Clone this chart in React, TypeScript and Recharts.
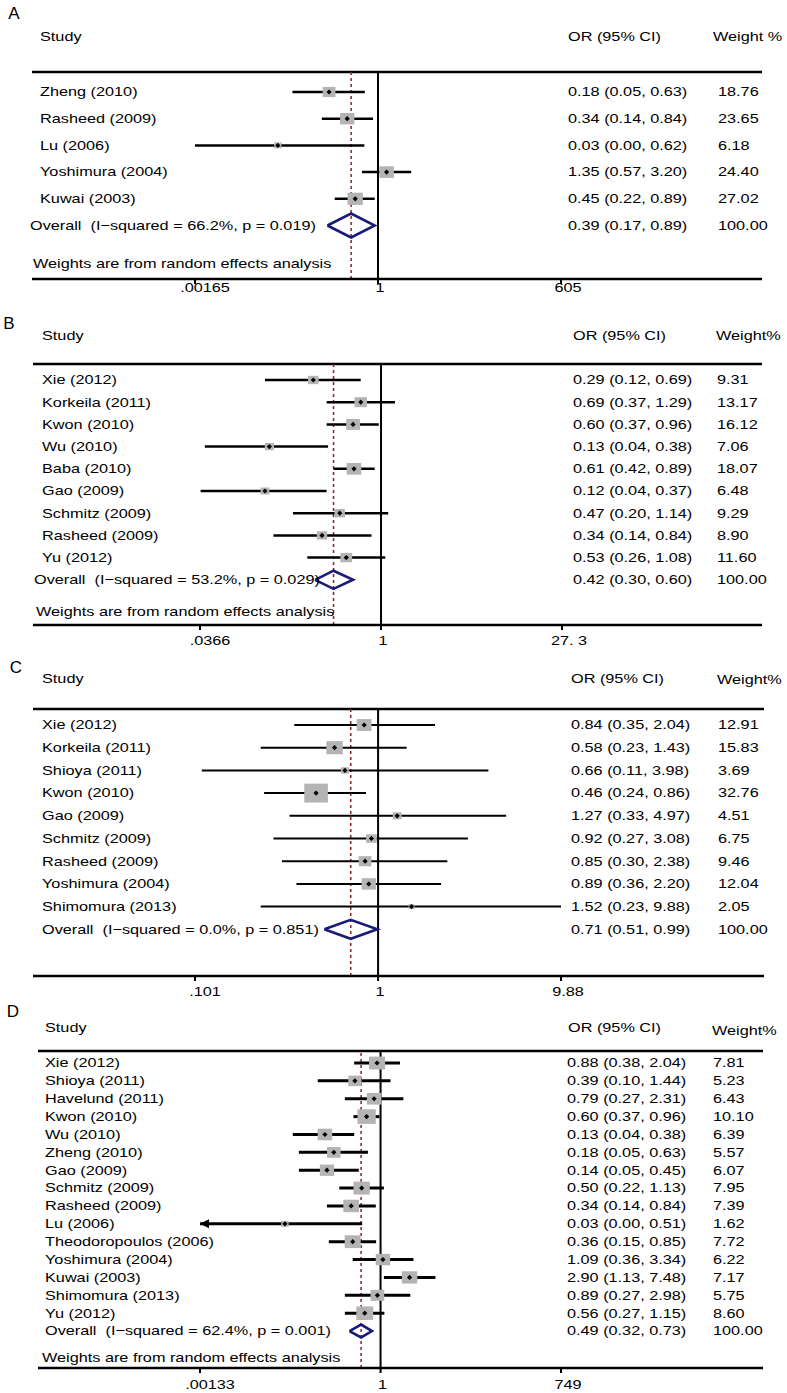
import React from 'react'
import { ComposedChart, Line, Scatter, XAxis, YAxis, ReferenceLine } from 'recharts'

// Panel A
const studiesA = ['Zheng (2010)', 'Rasheed (2009)', 'Lu (2006)', 'Yoshimura (2004)', 'Kuwai (2003)']
const orA = [0.18, 0.34, 0.03, 1.35, 0.45]
const loA = [0.05, 0.14, 0.00165, 0.57, 0.22]
const hiA = [0.63, 0.84, 0.62, 3.2, 0.89]
const weightA = [18.76, 23.65, 6.18, 24.4, 27.02]
const overallA = [0.39, 0.17, 0.89]
const hetA = 'Overall  (I\u2212squared = 66.2%, p = 0.019)'
const ticksA = [0.00165, 1, 605]
const tickLabelsA = ['.00165', '1', '605']

// Panel B
const studiesB = ['Xie (2012)', 'Korkeila (2011)', 'Kwon (2010)', 'Wu (2010)', 'Baba (2010)', 'Gao (2009)', 'Schmitz (2009)', 'Rasheed (2009)', 'Yu (2012)']
const orB = [0.29, 0.69, 0.6, 0.13, 0.61, 0.12, 0.47, 0.34, 0.53]
const loB = [0.12, 0.37, 0.37, 0.04, 0.42, 0.037, 0.2, 0.14, 0.26]
const hiB = [0.69, 1.29, 0.96, 0.38, 0.89, 0.37, 1.14, 0.84, 1.08]
const weightB = [9.31, 13.17, 16.12, 7.06, 18.07, 6.48, 9.29, 8.9, 11.6]
const overallB = [0.42, 0.3, 0.6]
const hetB = 'Overall  (I\u2212squared = 53.2%, p = 0.029)'
const ticksB = [0.0366, 1, 27.3]
const tickLabelsB = ['.0366', '1', '27. 3']

// Panel C
const studiesC = ['Xie (2012)', 'Korkeila (2011)', 'Shioya (2011)', 'Kwon (2010)', 'Gao (2009)', 'Schmitz (2009)', 'Rasheed (2009)', 'Yoshimura (2004)', 'Shimomura (2013)']
const orC = [0.84, 0.58, 0.66, 0.46, 1.27, 0.92, 0.85, 0.89, 1.52]
const loC = [0.35, 0.23, 0.11, 0.24, 0.33, 0.27, 0.3, 0.36, 0.23]
const hiC = [2.04, 1.43, 3.98, 0.86, 4.97, 3.08, 2.38, 2.2, 9.88]
const weightC = [12.91, 15.83, 3.69, 32.76, 4.51, 6.75, 9.46, 12.04, 2.05]
const overallC = [0.71, 0.51, 0.99]
const hetC = 'Overall  (I\u2212squared = 0.0%, p = 0.851)'
const ticksC = [0.101, 1, 9.88]
const tickLabelsC = ['.101', '1', '9.88']

// Panel D
const studiesD = ['Xie (2012)', 'Shioya (2011)', 'Havelund (2011)', 'Kwon (2010)', 'Wu (2010)', 'Zheng (2010)', 'Gao (2009)', 'Schmitz (2009)', 'Rasheed (2009)', 'Lu (2006)', 'Theodoropoulos (2006)', 'Yoshimura (2004)', 'Kuwai (2003)', 'Shimomura (2013)', 'Yu (2012)']
const orD = [0.88, 0.39, 0.79, 0.6, 0.13, 0.18, 0.14, 0.5, 0.34, 0.03, 0.36, 1.09, 2.9, 0.89, 0.56]
const loD = [0.38, 0.1, 0.27, 0.37, 0.04, 0.05, 0.05, 0.22, 0.14, 0.001, 0.15, 0.36, 1.13, 0.27, 0.27]
const hiD = [2.04, 1.44, 2.31, 0.96, 0.38, 0.63, 0.45, 1.13, 0.84, 0.51, 0.85, 3.34, 7.48, 2.98, 1.15]
const weightD = [7.81, 5.23, 6.43, 10.1, 6.39, 5.57, 6.07, 7.95, 7.39, 1.62, 7.72, 6.22, 7.17, 5.75, 8.6]
const overallD = [0.49, 0.32, 0.73]
const hetD = 'Overall  (I\u2212squared = 62.4%, p = 0.001)'
const ticksD = [0.00133, 1, 749]
const tickLabelsD = ['.00133', '1', '749']

const NOTE = 'Weights are from random effects analysis'
const FONT = '"Liberation Sans", Arial, Helvetica, sans-serif'
const SX = 1.27
const FS = 12.8
const TICK_DX = [10, 2, 7]

type Panel = {
  studies: string[]; or: number[]; lo: number[]; hi: number[]; weight: number[]
  overall: number[]; het: string; ticks: number[]; tickLabels: string[]; note: boolean
}

type Layout = {
  letter: string; letterX: number; letterY: number
  headY: number; studyHeadX: number; orHeadX: number; wHead: string; wHeadX: number; wHeadY: number
  top: number; bottom: number; left: number; right: number; tickPx: number[]
  row0: number; step: number
  studyX: number; overallX: number; noteX: number; noteY: number; orX: number; wX: number
  box: number; ci: number; dia: number; labelGap: number
}

const panels: { p: Panel; l: Layout }[] = [
  {
    p: { studies: studiesA, or: orA, lo: loA, hi: hiA, weight: weightA, overall: overallA, het: hetA, ticks: ticksA, tickLabels: tickLabelsA, note: true },
    l: { letter: 'A', letterX: 14, letterY: 13, headY: 37, studyHeadX: 40, orHeadX: 568, wHead: 'Weight %', wHeadX: 713, wHeadY: 37,
      top: 72, bottom: 279, left: 32, right: 762, tickPx: [195, 561], row0: 92, step: 26.7,
      studyX: 40, overallX: 30, noteX: 33, noteY: 264, orX: 568, wX: 718, box: 2.35, ci: 2.5, dia: 0.45, labelGap: 9 },
  },
  {
    p: { studies: studiesB, or: orB, lo: loB, hi: hiB, weight: weightB, overall: overallB, het: hetB, ticks: ticksB, tickLabels: tickLabelsB, note: true },
    l: { letter: 'B', letterX: 9, letterY: 323, headY: 336, studyHeadX: 42, orHeadX: 573, wHead: 'Weight%', wHeadX: 716, wHeadY: 336,
      top: 364, bottom: 625, left: 33, right: 762, tickPx: [200, 562], row0: 380, step: 22.2,
      studyX: 42, overallX: 34, noteX: 36, noteY: 612, orX: 573, wX: 717, box: 2.75, ci: 2.5, dia: 0.41, labelGap: 16 },
  },
  {
    p: { studies: studiesC, or: orC, lo: loC, hi: hiC, weight: weightC, overall: overallC, het: hetC, ticks: ticksC, tickLabels: tickLabelsC, note: false },
    l: { letter: 'C', letterX: 16, letterY: 667, headY: 679, studyHeadX: 42, orHeadX: 571, wHead: 'Weight%', wHeadX: 717, wHeadY: 680,
      top: 709, bottom: 976, left: 33, right: 764, tickPx: [195, 561], row0: 725, step: 22.7,
      studyX: 42, overallX: 42, noteX: 42, noteY: 960, orX: 571, wX: 718, box: 3.3, ci: 2, dia: 0.42, labelGap: 16 },
  },
  {
    p: { studies: studiesD, or: orD, lo: loD, hi: hiD, weight: weightD, overall: overallD, het: hetD, ticks: ticksD, tickLabels: tickLabelsD, note: true },
    l: { letter: 'D', letterX: 13, letterY: 1011, headY: 1028, studyHeadX: 45, orHeadX: 568, wHead: 'Weight%', wHeadX: 712, wHeadY: 1031,
      top: 1051, bottom: 1368, left: 38, right: 763, tickPx: [200, 561], row0: 1063, step: 17.87,
      studyX: 45, overallX: 45, noteX: 42, noteY: 1358, orX: 567, wX: 713, box: 4.6, ci: 3, dia: 0.36, labelGap: 17 },
  },
]

function Txt({ x, y, anchor = 'start', children }: { x: number; y: number; anchor?: string; children: React.ReactNode }) {
  return (
    <g transform={`translate(${x},${y}) scale(${SX},1)`}>
      <text
        x={0}
        y={0}
        dominantBaseline="central"
        textAnchor={anchor as any}
        fontSize={FS}
        fontFamily={FONT}
        fill="#000"
        xmlSpace="preserve"
        style={{ whiteSpace: 'pre' }}
      >
        {children}
      </text>
    </g>
  )
}

const f2 = (v: number) => v.toFixed(2)

function ForestPanel({ p, l }: { p: Panel; l: Layout }) {
  const lnT = p.ticks.map(Math.log)
  const tMin = lnT[0]
  const tMax = lnT[lnT.length - 1]
  const s = (l.tickPx[1] - l.tickPx[0]) / (tMax - tMin)
  const xDomain = [tMin - (l.tickPx[0] - l.left) / s, tMax + (l.right - l.tickPx[1]) / s]
  const yDomain = [(l.top - l.row0) / l.step, (l.bottom - l.row0) / l.step]
  const n = p.studies.length
  const noteIdx = (l.noteY - l.row0) / l.step

  const rows = p.studies.map((_, i) => ({ x: Math.log(p.or[i]), y: i, w: p.weight[i] }))
  const cis = p.studies.map((_, i) => {
    const lo = Math.log(p.lo[i])
    const hi = Math.log(p.hi[i])
    return { arrow: lo < tMin - 1e-9, pts: [{ x: Math.max(lo, tMin), y: i }, { x: Math.min(hi, tMax), y: i }] }
  })
  const [oe, ol, oh] = p.overall.map(Math.log)
  const diamond = [
    { x: ol, y: n }, { x: oe, y: n - l.dia }, { x: oh, y: n }, { x: oe, y: n + l.dia }, { x: ol, y: n },
  ]
  const totalW = p.weight.reduce((a, b) => a + b, 0)

  // text rows, placed on the y scale (x pinned to the middle of the domain)
  const xMid = (xDomain[0] + xDomain[1]) / 2
  const textRows = [
    ...rows.map(r => ({ x: xMid, y: r.y, kind: 'study', i: r.y })),
    { x: xMid, y: n, kind: 'overall', i: n },
    ...(p.note ? [{ x: xMid, y: noteIdx, kind: 'note', i: -1 }] : []),
  ]

  const PAD = 4
  const AXIS_H = 34
  const height = l.bottom - l.top + PAD + AXIS_H

  const textShape = (props: any) => {
    const d = props.payload
    const y = props.cy
    if (d.kind === 'note') return <g><Txt x={l.noteX} y={y}>{NOTE}</Txt></g>
    if (d.kind === 'overall') {
      return (
        <g>
          <Txt x={l.overallX} y={y}>{p.het}</Txt>
          <Txt x={l.orX} y={y}>{`${f2(p.overall[0])} (${f2(p.overall[1])}, ${f2(p.overall[2])})`}</Txt>
          <Txt x={l.wX} y={y}>{Math.round(totalW).toFixed(2)}</Txt>
        </g>
      )
    }
    const i = d.i
    return (
      <g>
        <Txt x={l.studyX} y={y}>{p.studies[i]}</Txt>
        <Txt x={l.orX} y={y}>{`${f2(p.or[i])} (${f2(p.lo[i])}, ${f2(p.hi[i])})`}</Txt>
        <Txt x={l.wX} y={y}>{f2(p.weight[i])}</Txt>
      </g>
    )
  }

  const xTick = (props: any) => (
    <g key={`t${props.index}`}>
      <Txt x={props.x + TICK_DX[props.index]} y={props.y + (l.labelGap - 7)} anchor="middle">{p.tickLabels[props.index]}</Txt>
    </g>
  )

  const boxShape = (props: any) => {
    const h = l.box * Math.sqrt(props.payload.w)
    const w = h * 1.25
    return <rect x={props.cx - w / 2} y={props.cy - h / 2} width={w} height={h} fill="#b4b4b4" />
  }
  const markShape = (props: any) => {
    const r = 2.6
    return <polygon points={`${props.cx - r},${props.cy} ${props.cx},${props.cy - r} ${props.cx + r},${props.cy} ${props.cx},${props.cy + r}`} fill="#000" />
  }

  return (
    <div style={{ position: 'absolute', left: 0, top: l.top - PAD }}>
      <ComposedChart width={787} height={height} margin={{ top: PAD, right: 787 - l.right, bottom: 0, left: l.left }}>
        <XAxis
          type="number"
          dataKey="x"
          domain={xDomain}
          allowDataOverflow
          ticks={lnT}
          interval={0}
          height={AXIS_H}
          tickSize={5}
          axisLine={{ stroke: '#000', strokeWidth: 2.6 }}
          tickLine={{ stroke: '#000', strokeWidth: 2 }}
          tick={xTick}
        />
        <XAxis xAxisId="t" type="number" dataKey="x" domain={xDomain} hide />
        <YAxis type="number" dataKey="y" domain={yDomain} reversed allowDataOverflow hide />
        <YAxis yAxisId="t" type="number" dataKey="y" domain={yDomain} reversed hide />
        <ReferenceLine y={yDomain[0]} stroke="#000" strokeWidth={2.6} />
        <Scatter data={textRows} xAxisId="t" yAxisId="t" shape={textShape} isAnimationActive={false} />
        <Scatter data={rows} shape={boxShape} isAnimationActive={false} />
        <ReferenceLine x={0} stroke="#000" strokeWidth={2} />
        <ReferenceLine x={oe} stroke="#8b2323" strokeWidth={1.5} strokeDasharray="3 3" />
        {cis.map((c, i) => (
          <Line
            key={i}
            data={c.pts}
            dataKey="y"
            type="linear"
            stroke="#000"
            strokeWidth={l.ci}
            activeDot={false}
            isAnimationActive={false}
            dot={c.arrow
              ? (d: any) => d.index === 0
                ? <polygon key="arrow" points={`${d.cx},${d.cy} ${d.cx + 9},${d.cy - 4.5} ${d.cx + 9},${d.cy + 4.5}`} fill="#000" />
                : <g key="none" />
              : false}
          />
        ))}
        <Scatter data={rows} shape={markShape} isAnimationActive={false} />
        <Line
          data={diamond}
          dataKey="y"
          type="linear"
          stroke="#1a1a78"
          strokeWidth={2.6}
          strokeLinejoin="miter"
          dot={false}
          activeDot={false}
          isAnimationActive={false}
        />
      </ComposedChart>
    </div>
  )
}

export default function App() {
  return (
    <div style={{ position: 'absolute', left: 0, top: 0, width: 787, height: 1393, background: '#fff' }}>
      {panels.map((pl, i) => <ForestPanel key={i} p={pl.p} l={pl.l} />)}
      <svg width={787} height={1393} style={{ position: 'absolute', left: 0, top: 0, pointerEvents: 'none' }}>
        {panels.map(({ l }, i) => (
          <g key={i}>
            <text x={l.letterX} y={l.letterY} dominantBaseline="central" textAnchor="middle" fontSize={17} fontFamily={FONT} fill="#000">{l.letter}</text>
            <Txt x={l.studyHeadX} y={l.headY}>Study</Txt>
            <Txt x={l.orHeadX} y={l.headY}>OR (95% CI)</Txt>
            <Txt x={l.wHeadX} y={l.wHeadY}>{l.wHead}</Txt>
          </g>
        ))}
      </svg>
    </div>
  )
}
